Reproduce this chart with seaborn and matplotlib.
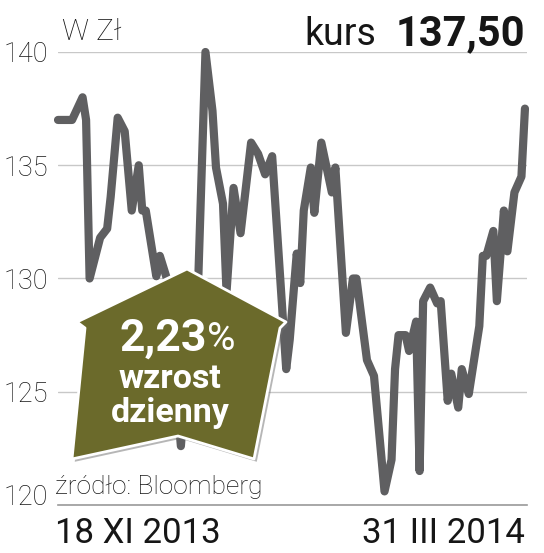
import matplotlib
matplotlib.use("Agg")
import matplotlib.pyplot as plt
import matplotlib.patheffects as pe
from matplotlib.patches import Polygon
import pandas as pd
import seaborn as sns

# kurs zamknięcia (zł), punkty zwrotne
dates = [
    "2013-11-18", "2013-11-22", "2013-11-25", "2013-11-26", "2013-11-27",
    "2013-11-30", "2013-12-02", "2013-12-03", "2013-12-05", "2013-12-07",
    "2013-12-09", "2013-12-11", "2013-12-12", "2013-12-13", "2013-12-16",
    "2013-12-17", "2013-12-19", "2013-12-23", "2013-12-25", "2013-12-28",
    "2013-12-30", "2014-01-01", "2014-01-02", "2014-01-04", "2014-01-05",
    "2014-01-07", "2014-01-09", "2014-01-12", "2014-01-14", "2014-01-16",
    "2014-01-18", "2014-01-22", "2014-01-23", "2014-01-25", "2014-01-26",
    "2014-01-27", "2014-01-29", "2014-01-30", "2014-02-01", "2014-02-04",
    "2014-02-05", "2014-02-08", "2014-02-10", "2014-02-11", "2014-02-14",
    "2014-02-16", "2014-02-19", "2014-02-21", "2014-02-22", "2014-02-23",
    "2014-02-25", "2014-02-26", "2014-02-28", "2014-03-01", "2014-03-02",
    "2014-03-04", "2014-03-06", "2014-03-07", "2014-03-09", "2014-03-10",
    "2014-03-12", "2014-03-13", "2014-03-15", "2014-03-18", "2014-03-19",
    "2014-03-20", "2014-03-22", "2014-03-23", "2014-03-25", "2014-03-26",
    "2014-03-28", "2014-03-30", "2014-03-31",
]
prices = [
    137.0, 137.0, 138.0, 137.0, 130.0,
    131.8, 132.2, 133.6, 137.1, 136.5,
    133.0, 135.0, 133.0, 133.0, 130.1,
    131.0, 130.0, 122.6, 126.5, 130.2,
    140.0, 137.4, 134.9, 133.3, 129.4,
    134.0, 132.0, 136.0, 135.5, 134.6,
    135.4, 126.0, 127.3, 131.1, 129.8,
    133.0, 134.9, 132.9, 136.0, 133.8,
    134.9, 127.6, 130.0, 130.0, 126.4,
    125.7, 120.6, 122.0, 126.0, 127.5,
    127.5, 126.8, 128.1, 121.5, 129.0,
    129.6, 128.9, 129.0, 124.6, 125.8,
    124.3, 126.0, 124.9, 127.9, 131.0,
    131.0, 132.1, 129.0, 133.0, 131.2,
    133.8, 134.5, 137.5,
]
y_ticks = [120, 125, 130, 135, 140]
unit_label = "W Zł"
price_label = "kurs"
last_price = "137,50"
change_value = "2,23"
change_lines = ["wzrost", "dzienny"]
start_label = "18 XI 2013"
end_label = "31 III 2014"
source_label = "źródło: Bloomberg"

LINE = "#5f5f61"
OLIVE = "#6b6a2b"
GRID = "#c8c8c8"
INK = "#161616"
W, H = 544, 553

sns.set_theme(style="white")
plt.rcParams["font.family"] = ["Roboto", "DejaVu Sans"]

df = pd.DataFrame({"data": pd.to_datetime(dates), "kurs": prices})

fig = plt.figure(figsize=(W / 100, H / 100), dpi=100)
ax = fig.add_axes([58 / W, 1 - 505 / H, (527 - 58) / W, (505 - 52) / H])

sns.lineplot(data=df, x="data", y="kurs", ax=ax, color=LINE, linewidth=5.9,
             solid_joinstyle="round", solid_capstyle="round", clip_on=False)

ax.set_xlim(df["data"].iloc[0], df["data"].iloc[-1] + pd.Timedelta(hours=14))
ax.set_ylim(120, 140)
ax.set_yticks(y_ticks)
ax.set_yticklabels([str(v) for v in y_ticks], fontsize=19.5, fontweight="light", color=INK)
ax.get_yticklabels()[0].set_va("baseline")
ax.tick_params(axis="y", length=0, pad=7)
ax.set_xticks([])
ax.set_xlabel("")
ax.set_ylabel("")
ax.grid(axis="y", color=GRID, linewidth=1.0)
ax.grid(axis="x", visible=False)
for side in ["top", "left", "right"]:
    ax.spines[side].set_visible(False)
ax.spines["bottom"].set_color("#9a9a9a")
ax.spines["bottom"].set_linewidth(1.2)


def fx(px):
    return px / W


def fy(py):
    return 1 - py / H


# strzałka ze zmianą dzienną
arrow_px = [(187, 269), (286, 322), (280, 328), (254, 459), (178, 436),
            (72, 459), (85, 328), (77, 322)]
arrow = Polygon([(fx(x), fy(y)) for x, y in arrow_px], closed=True,
                transform=fig.transFigure, facecolor=OLIVE, edgecolor="white",
                linewidth=2, joinstyle="round", zorder=5)
arrow.set_path_effects([pe.withSimplePatchShadow(offset=(2, -2), shadow_rgbFace="#6f6f6f", alpha=0.5)])
fig.add_artist(arrow)

fig.text(fx(207), fy(351), change_value, ha="right", va="baseline", fontsize=32,
         fontweight="bold", color="white", zorder=6)
fig.text(fx(207), fy(350), "%", ha="left", va="baseline", fontsize=28,
         fontweight="normal", color="white", zorder=6)
fig.text(fx(170), fy(388), change_lines[0], ha="center", va="baseline", fontsize=24.5,
         fontweight="bold", color="white", zorder=6)
fig.text(fx(170.5), fy(422), change_lines[1], ha="center", va="baseline", fontsize=24.5,
         fontweight="bold", color="white", zorder=6)

# nagłówek i podpisy
fig.text(fx(62), fy(40), unit_label, ha="left", va="baseline", fontsize=21.5,
         fontweight="light", color=INK)
fig.text(fx(304), fy(45), price_label, ha="left", va="baseline", fontsize=27,
         color=INK)
fig.text(fx(525), fy(45), last_price, ha="right", va="baseline", fontsize=30,
         fontweight="bold", color=INK)
fig.text(fx(55), fy(494), source_label, ha="left", va="baseline", fontsize=19,
         fontweight="light", color=INK)
fig.text(fx(55), fy(543), start_label, ha="left", va="baseline", fontsize=25,
         color=INK)
fig.text(fx(525), fy(543), end_label, ha="right", va="baseline", fontsize=25,
         color=INK)

fig.savefig("out.png", dpi=100)
